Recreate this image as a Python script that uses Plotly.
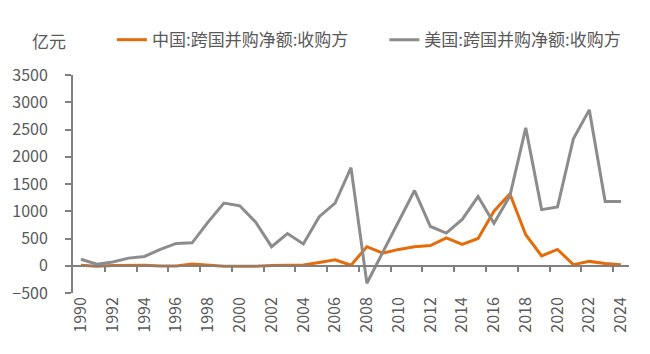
import plotly.graph_objects as go

years = list(range(1990, 2025))
china = [10, -10, 5, 5, 10, -5, -5, 30, 10, -10, -10, -10, 5, 10, 15, 60, 110, 10,
         350, 230, 300, 350, 370, 510, 390, 500, 1000, 1320, 570, 180, 300, 20, 80, 40, 20]
usa = [120, 30, 70, 140, 170, 300, 410, 420, 800, 1150, 1100, 800, 350, 590, 400, 900,
       1150, 1800, -320, 250, 800, 1380, 720, 600, 850, 1270, 780, 1280, 2530, 1030,
       1080, 2330, 2860, 1180, 1180]
tick_years = list(range(1990, 2025, 2))
tick_labels = [str(y) for y in tick_years]
boundary_ticks = [y - 0.5 for y in range(1992, 2025, 2)]
y_ticks = list(range(-500, 3501, 500))

FONT = "Noto Sans CJK SC"
TXT = "#595959"
AX = "#808080"
XR = [1989.5, 2024.5]

fig = go.Figure()
fig.add_trace(go.Scatter(x=years, y=china, mode="lines", name="中国:跨国并购净额:收购方",
                         line=dict(color="#E46C0A", width=3), legend="legend"))
fig.add_trace(go.Scatter(x=years, y=usa, mode="lines", name="美国:跨国并购净额:收购方",
                         line=dict(color="#8C8C8C", width=3), legend="legend2"))
fig.add_trace(go.Scatter(x=[], y=[], xaxis="x2", showlegend=False, hoverinfo="skip"))

leg = dict(orientation="h", xanchor="left", y=1.16, yanchor="middle",
           font=dict(size=17, color=TXT), bgcolor="rgba(0,0,0,0)", itemwidth=30)

fig.update_layout(
    width=650, height=354,
    margin=dict(l=71, r=21, t=75, b=61),
    paper_bgcolor="white", plot_bgcolor="white",
    font=dict(family=FONT, size=16, color=TXT),
    showlegend=True,
    legend=dict(leg, x=0.07),
    legend2=dict(leg, x=0.56),
    xaxis=dict(range=XR, tickmode="array", tickvals=tick_years, ticktext=tick_labels,
               tickangle=-90, ticks="", showline=False, showgrid=False, zeroline=False,
               tickfont=dict(size=16, color=TXT)),
    xaxis2=dict(range=XR, overlaying="x", anchor="free", position=0.125,
                showline=True, linecolor=AX, linewidth=2, showgrid=False, zeroline=False,
                showticklabels=False, ticks="outside", ticklen=5, tickwidth=2, tickcolor=AX,
                tickmode="array", tickvals=boundary_ticks),
    yaxis=dict(range=[-500, 3500], tickmode="array", tickvals=y_ticks,
               showline=True, linecolor=AX, linewidth=2, ticks="outside", ticklen=6,
               tickwidth=2, tickcolor=AX, showgrid=False, zeroline=False,
               tickfont=dict(size=16, color=TXT), ticklabelstandoff=14),
    annotations=[dict(text="亿元", xref="paper", yref="paper", x=-0.043, y=1.16,
                      xanchor="center", yanchor="middle", showarrow=False,
                      font=dict(size=17, color=TXT))],
)

fig.write_html("out.html")
